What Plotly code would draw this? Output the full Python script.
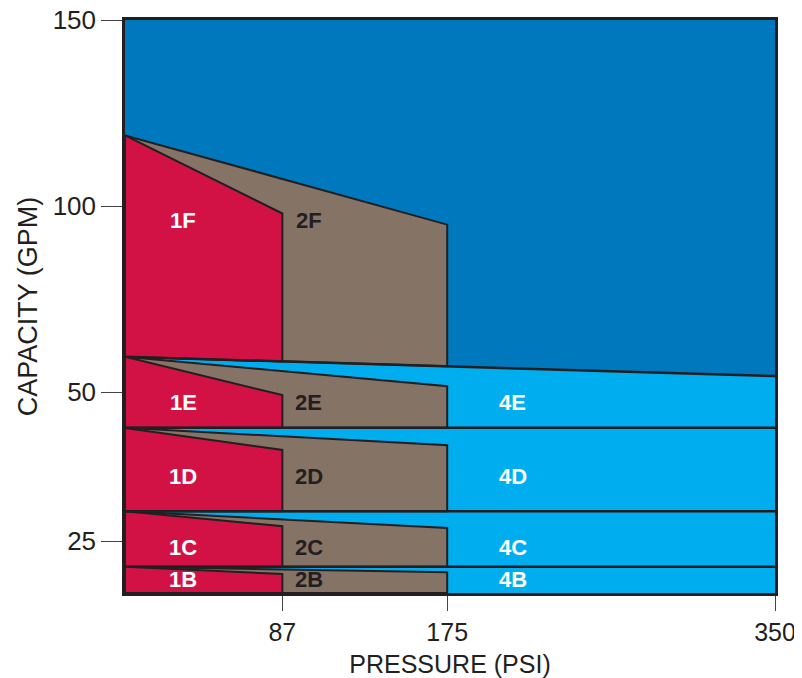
import numpy as np
import plotly.graph_objects as go

# ---------------- data ----------------
PSI_MIN = 3            # left edge of the chart (psi)
PSI_MAX = 350
series_1_psi = 87      # max pressure of series 1
series_2_psi = 175     # max pressure of series 2
GPM_BOTTOM = 16.3
GPM_TOP = 150

bands = ["B", "C", "D", "E", "F"]
band_floor_left = [16.3, 20.7, 30.0, 44.0, 59.5]    # GPM at PSI_MIN
band_floor_right = [16.3, 20.7, 30.0, 44.0, 54.3]   # GPM at PSI_MAX
band_peak = [20.7, 30.0, 44.0, 59.5, 119.0]         # GPM at PSI_MIN (top)
series_1_cap = [19.5, 27.5, 40.3, 49.5, 98.0]       # GPM at 87 psi
series_2_cap = [19.8, 27.2, 41.1, 51.6, 95.0]       # GPM at 175 psi

x_ticks = [87, 175, 350]
y_ticks = [25, 50, 100, 150]

# label positions (psi, gpm)
label_x = {"1": 34, "2": 101, "4": 210}
label_y = {"B": 18.6, "C": 24.0, "D": 35.9, "E": 48.3, "F": 96.2}

# ---------------- styles ----------------
DARK_BLUE = "#0078be"
LIGHT_BLUE = "#00aeef"
RED = "#d21244"
BROWN = "#857366"
INK = "#231f20"
FONT = "Liberation Sans, Arial, sans-serif"

# piecewise-linear capacity scale (bottom part expanded)
K = 149.0 / 93.0


def T(g):
    g = np.asarray(g, dtype=float)
    return np.where(g >= 50, g, 50 - (50 - g) * K)


def floor_at(i, x):
    return float(np.interp(x, [PSI_MIN, PSI_MAX], [band_floor_left[i], band_floor_right[i]]))


fig = go.Figure()

# series 4 (light blue) region: everything below the F-band floor
fig.add_trace(go.Scatter(
    x=[PSI_MIN, PSI_MAX, PSI_MAX, PSI_MIN],
    y=T([band_floor_left[-1], band_floor_right[-1], GPM_BOTTOM, GPM_BOTTOM]),
    fill="toself", fillcolor=LIGHT_BLUE, mode="lines",
    line=dict(width=0, color=LIGHT_BLUE), hoverinfo="skip", showlegend=False))

# series 2 then series 1 polygons for each band
for caps, xr, color in [(series_2_cap, series_2_psi, BROWN), (series_1_cap, series_1_psi, RED)]:
    for i, b in enumerate(bands):
        xs = [PSI_MIN, xr, xr, PSI_MIN, PSI_MIN]
        ys = T([band_peak[i], caps[i], floor_at(i, xr), floor_at(i, PSI_MIN), band_peak[i]])
        fig.add_trace(go.Scatter(
            x=xs, y=ys, fill="toself", fillcolor=color, mode="lines",
            line=dict(width=2, color=INK), hoverinfo="skip", showlegend=False))

# band separators across the full width
for i in range(1, len(bands)):
    fig.add_trace(go.Scatter(
        x=[PSI_MIN, PSI_MAX], y=T([band_floor_left[i], band_floor_right[i]]),
        mode="lines", line=dict(width=2.5, color=INK), hoverinfo="skip", showlegend=False))

# labels
for s in ["1", "2", "4"]:
    for b in bands:
        if s == "4" and b == "F":
            continue
        fig.add_annotation(
            x=label_x[s], y=float(T(label_y[b])), text=f"<b>{s}{b}</b>", showarrow=False,
            font=dict(family=FONT, size=22, color=INK if s == "2" else "white"))

# the page body has an 8px margin, so the figure is shrunk by that offset
fig.update_layout(
    width=794, height=670,
    margin=dict(l=117, r=27, t=12, b=85, autoexpand=False),
    paper_bgcolor="white", plot_bgcolor=DARK_BLUE,
    font=dict(family=FONT, color=INK),
    xaxis=dict(
        range=[PSI_MIN, PSI_MAX], tickvals=x_ticks, ticktext=[str(v) for v in x_ticks],
        ticks="outside", ticklen=15, tickwidth=1.2, tickcolor="#444", automargin=False,
        ticklabeloverflow="allow",
        showgrid=False, zeroline=False, showline=True, mirror=True,
        linecolor=INK, linewidth=2.5,
        tickfont=dict(size=25, family=FONT, color=INK),
        title=dict(text="PRESSURE (PSI)", font=dict(size=25, family=FONT, color=INK), standoff=12)),
    yaxis=dict(
        range=[float(T(GPM_BOTTOM)), GPM_TOP], tickvals=T(y_ticks).tolist(),
        ticktext=[str(v) for v in y_ticks], automargin=False,
        ticklabeloverflow="allow",
        ticks="outside", ticklen=21, tickwidth=1.2, tickcolor="#444",
        showgrid=False, zeroline=False, showline=True, mirror=True,
        linecolor=INK, linewidth=2.5,
        tickfont=dict(size=26, family=FONT, color=INK),
        title=dict(text="CAPACITY (GPM)", font=dict(size=27, family=FONT, color=INK), standoff=8)),
)

fig.write_html("out.html")
